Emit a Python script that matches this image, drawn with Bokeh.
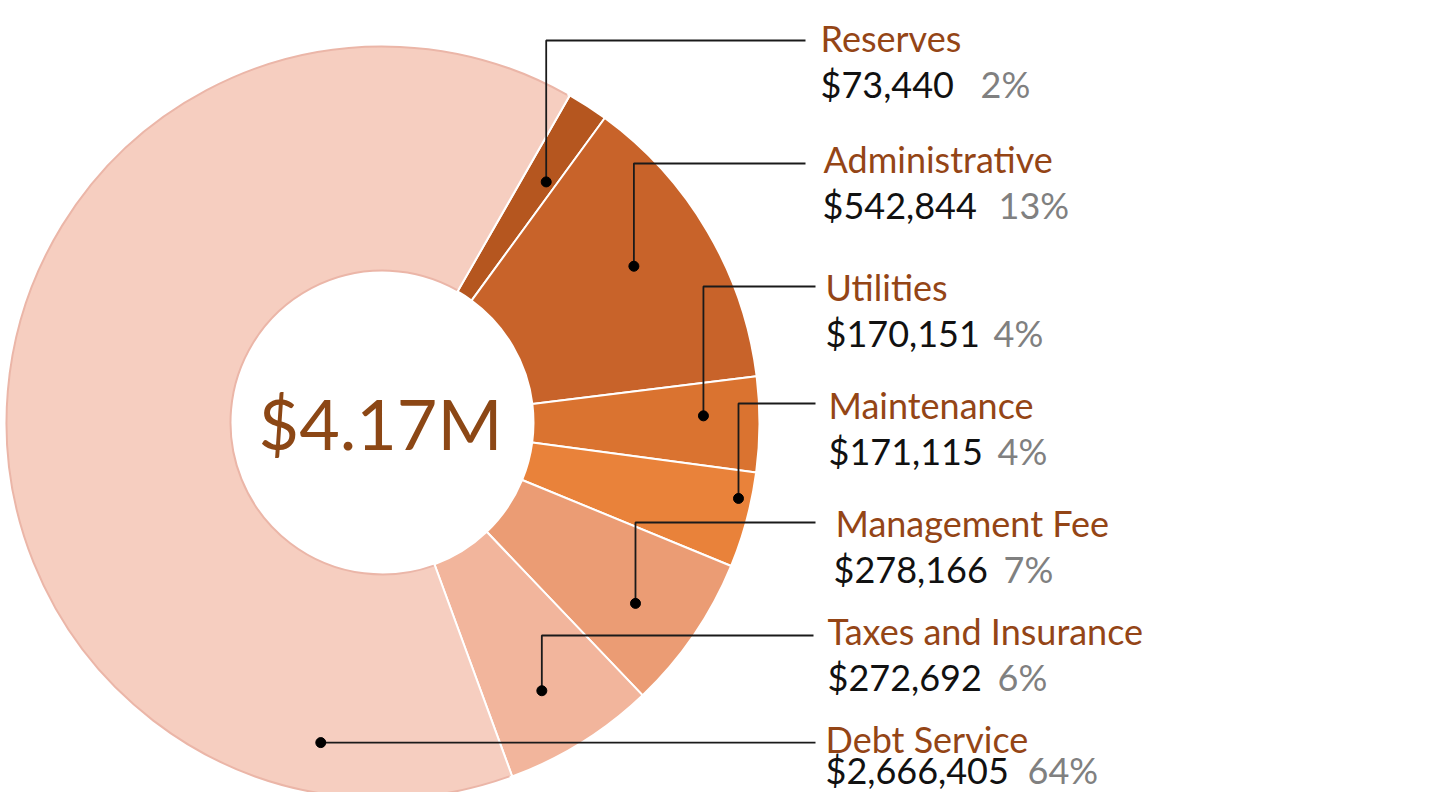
import math
from bokeh.plotting import figure
from bokeh.models import Range1d, ColumnDataSource
from bokeh.core.properties import value
from bokeh.embed import file_html
from bokeh.resources import INLINE

# ---------------- data ----------------
categories = ["Reserves", "Administrative", "Utilities", "Maintenance",
              "Management Fee", "Taxes and Insurance", "Debt Service"]
amounts = [73440, 542844, 170151, 171115, 278166, 272692, 2666405]
pct_labels = ["2%", "13%", "4%", "4%", "7%", "6%", "64%"]

# ---------------- styles ----------------
colors = ["#B5561F", "#C8632A", "#DA7330", "#E9823A", "#EB9C74", "#F2B59C", "#F6CEC0"]
LABEL_COLOR = "#944516"
CENTER_COLOR = "#8C4715"
FONT = "Lato"
FS = 36
FS_CENTER = 70

# ---------------- layout (picture pixel coords) ----------------
W, H = 1437, 792
CX, CY = 382, 422
R_OUT, R_IN = 377, 151
START_CW = 29.8  # degrees clockwise from 12 o'clock where first slice starts

# leader anchors: fraction of slice angle, radius of dot
dot_frac = [0.70, 0.47, 0.40, 0.30, 0.55, 0.55, 0.135]
dot_r = [291, 296, 321, 364, 311, 312, 326]
line_y = [40, 163, 286, 403, 522, 635, None]
line_end_x = [805, 805, 815, 815, 815, 813, 815]
label_x = [820, 823, 825, 828, 835, 827, 825]
label_base = [51, 172, 300, 418, 536, 644, 752]
value_x = [820, 822, 825, 828, 833, 827, 825]
value_base = [97, 218, 346, 464, 582, 690, 783]
pct_x = [980, 998, 993, 997, 1003, 997, 1027]


def Y(py):
    return H - py


def base_to_mid(b, fs):
    return Y(b - 0.387 * fs)


def rad(d):
    return math.radians(d)


p = figure(width=W, height=H, output_backend="svg", toolbar_location=None,
           x_range=Range1d(0, W), y_range=Range1d(0, H),
           min_border=0, outline_line_color=None, background_fill_color="white",
           border_fill_color="white")
p.axis.visible = False
p.grid.visible = False

total = sum(amounts)
starts_cw, ends_cw = [], []
acc = START_CW
for a in amounts:
    span = a / total * 360.0
    starts_cw.append(acc)
    ends_cw.append(acc + span)
    acc += span

src = ColumnDataSource(dict(
    start=[rad(90 - e) for e in ends_cw],
    end=[rad(90 - s) for s in starts_cw],
    color=colors,
))
p.annular_wedge(x=CX, y=Y(CY), inner_radius=R_IN, outer_radius=R_OUT,
                start_angle="start", end_angle="end",
                fill_color="color", line_color="white", line_width=2,
                source=src)

# soft outline of the big slice
for rr in (R_OUT - 1, R_IN + 1):
    p.arc(x=CX, y=Y(CY), radius=rr, start_angle=rad(90 - ends_cw[-1] + 0.4),
          end_angle=rad(90 - starts_cw[-1] - 0.4),
          line_color="#EBB6A8", line_width=2)

# leaders
xs, ys, dxs, dys = [], [], [], []
for i in range(len(amounts)):
    th = math.radians(starts_cw[i] + dot_frac[i] * (ends_cw[i] - starts_cw[i]))
    px = CX + dot_r[i] * math.sin(th)
    py = CY - dot_r[i] * math.cos(th)
    ly = line_y[i] if line_y[i] is not None else py
    xs.append([px, px, line_end_x[i]])
    ys.append([Y(py), Y(ly), Y(ly)])
    dxs.append(px)
    dys.append(Y(py))
p.multi_line(xs=xs, ys=ys, line_color="#1a1a1a", line_width=1.8)
p.scatter(x=dxs, y=dys, size=10, fill_color="black", line_color="black")

# labels
p.text(x=label_x, y=[base_to_mid(b, FS) for b in label_base], text=categories,
       text_font=value(FONT), text_font_size=f"{FS}px", text_color=LABEL_COLOR,
       text_baseline="middle", text_align="left")
p.text(x=value_x, y=[base_to_mid(b, FS) for b in value_base],
       text=[f"${a:,}" for a in amounts],
       text_font=value(FONT), text_font_size=f"{FS}px", text_color="#111111",
       text_baseline="middle", text_align="left")
p.text(x=pct_x, y=[base_to_mid(b, FS) for b in value_base], text=pct_labels,
       text_font=value(FONT), text_font_size=f"{FS}px", text_color="#808080",
       text_baseline="middle", text_align="left")

# center total
p.text(x=[380], y=[base_to_mid(450, FS_CENTER)], text=[f"${total / 1e6:.2f}M"],
       text_font=value(FONT), text_font_size=f"{FS_CENTER}px", text_color=CENTER_COLOR,
       text_baseline="middle", text_align="center")

open("out.html", "w").write(file_html(p, INLINE))
